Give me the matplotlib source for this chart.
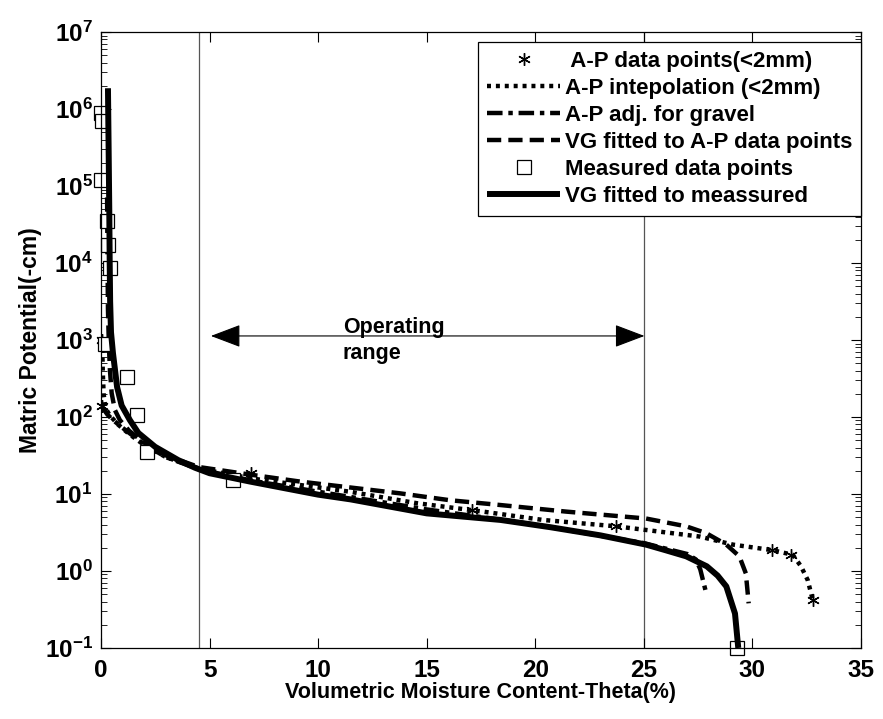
import matplotlib
matplotlib.use("Agg")
import matplotlib.pyplot as plt
from matplotlib.ticker import FixedLocator, LogLocator, MultipleLocator, NullFormatter

plt.rcParams.update(
    {
        "font.family": "Liberation Sans",
        "font.weight": "bold",
        "axes.labelweight": "bold",
        "mathtext.fontset": "custom",
        "mathtext.rm": "Liberation Sans:bold",
        "mathtext.bf": "Liberation Sans:bold",
        "mathtext.default": "bf",
    }
)

# VG fitted to measured (solid)
vg_meas_x = [0.32, 0.35, 0.38, 0.40, 0.42, 0.46, 0.55, 0.74, 0.95, 1.33, 1.72, 2.49, 3.56,
             4.33, 5.0, 6.86, 10.0, 11.5, 15.0, 18.4, 20.7, 23.0, 25.1, 26.0, 26.95, 27.9,
             28.4, 28.8, 29.2, 29.33, 29.35]
vg_meas_y = [1.86e6, 3.16e5, 5.0e4, 1.0e4, 3160, 1260, 676, 245, 141, 91, 62, 41, 27.5,
             21.9, 18.6, 14.5, 9.8, 8.5, 5.6, 4.6, 3.7, 2.9, 2.2, 1.86, 1.55, 1.15,
             0.87, 0.63, 0.28, 0.115, 0.1]

# VG fitted to A-P data points (dashed)
vg_ap_x = [0.28, 0.30, 0.32, 0.36, 0.41, 0.49, 0.64, 0.87, 1.3, 2.0, 3.0, 4.5, 6.9, 9.16,
           13.76, 16.06, 18.36, 21.43, 25.1, 26.95, 27.87, 28.8, 29.4, 29.7, 29.83]
vg_ap_y = [7.1e4, 1.0e4, 2500, 910, 410, 204, 123, 91, 66, 46, 31.6, 22.4, 17.8, 14.5,
           10.2, 8.3, 7.2, 5.9, 4.8, 3.8, 3.1, 2.2, 1.55, 0.93, 0.38]

# A-P interpolation (dotted)
ap_int_x = [0.05, 0.08, 0.12, 0.2, 0.4, 0.8, 1.3, 2.0, 3.0, 4.5, 7.0, 11.46, 14.53, 17.6,
            20.35, 23.73, 27.57, 29.1, 30.94, 31.86, 32.24, 32.55, 32.78]
ap_int_y = [1000, 400, 200, 132, 105, 79, 60, 43, 30, 21.4, 15.8, 10.7, 7.6, 5.9,
            4.6, 3.8, 2.8, 2.2, 1.86, 1.62, 1.15, 0.76, 0.42]

# A-P adjusted for gravel (dash-dot)
ap_grav_x = [0.0, 0.3, 0.6, 1.0, 1.3, 2.0, 3.0, 4.5, 7.0, 10.0, 15.0, 20.0, 25.0, 27.0,
             27.4, 27.6, 27.75, 27.87]
ap_grav_y = [141, 107, 89, 72, 62, 44, 30, 21, 14.8, 10.7, 6.3, 4.0, 2.3, 1.66,
             1.41, 1.05, 0.71, 0.52]

# A-P data points (<2mm)
ap_pts_x = [0.05, 0.05, 6.9, 17.1, 23.7, 30.9, 31.8, 32.8]
ap_pts_y = [1000, 140, 19, 6.2, 3.8, 1.85, 1.6, 0.42]

# measured data points
meas_x = [0.0, 0.05, 0.0, 0.26, 0.34, 0.41, 0.18, 1.18, 1.64, 2.1, 6.1, 29.3]
meas_y = [9e5, 7e5, 1.2e5, 3.5e4, 1.7e4, 8.5e3, 900, 330, 107, 35, 15, 0.1]

y_decades = [1e-1, 1e0, 1e1, 1e2, 1e3, 1e4, 1e5, 1e6, 1e7]
range_lo, range_hi = 4.5, 25.0

fig = plt.figure(figsize=(8.83, 7.19), dpi=100)
ax = fig.add_axes([0.1144, 0.0988, 0.8606, 0.8567])

ax.plot(ap_pts_x, ap_pts_y, ls="none", marker=(6, 2, 0), ms=9, mew=1.0, color="black",
        clip_on=False, label=" A-P data points(<2mm)")
ax.plot(ap_int_x, ap_int_y, color="black", lw=3.2, ls=(0, (0.9, 1.1)),
        label="A-P intepolation (<2mm)")
ax.plot(ap_grav_x, ap_grav_y, color="black", lw=3.2, ls=(0, (3.5, 1.3, 1.0, 1.3)),
        label="A-P adj. for gravel")
ax.plot(vg_ap_x, vg_ap_y, color="black", lw=3.2, ls=(0, (3.2, 1.6)),
        label="VG fitted to A-P data points")
ax.plot(meas_x, meas_y, ls="none", marker="s", ms=9.5, mfc="white", mec="black", mew=0.9,
        clip_on=False, label="Measured data points")
ax.plot(vg_meas_x, vg_meas_y, color="black", lw=4.3, solid_capstyle="butt",
        label="VG fitted to meassured")

# operating range
ax.axvline(range_lo, color="#555555", lw=0.9, zorder=0)
ax.axvline(range_hi, color="#555555", lw=0.9, zorder=0)
ax.annotate("", xy=(5.06, 1128), xytext=(25.03, 1128),
            arrowprops=dict(arrowstyle="<|-|>,head_length=0.95,head_width=0.36",
                            mutation_scale=20, color="black", lw=0.8, shrinkA=0, shrinkB=0))
ax.text(11.14, 1230, "Operating", fontsize=15.5, va="baseline")
ax.text(11.14, 566, "range", fontsize=15.5, va="baseline")

ax.set_yscale("log")
ax.set_xlim(0, 35)
ax.set_ylim(y_decades[0], y_decades[-1])
ax.xaxis.set_major_locator(MultipleLocator(5))
ax.yaxis.set_major_locator(FixedLocator(y_decades))
ax.yaxis.set_minor_locator(LogLocator(base=10, subs=range(2, 10), numticks=20))
ax.yaxis.set_minor_formatter(NullFormatter())
ax.tick_params(which="both", direction="in", top=True, right=True, labelsize=17.5)
ax.tick_params(which="major", length=7, width=0.8)
ax.tick_params(which="minor", length=4, width=0.6)
ax.tick_params(axis="x", pad=8)
ax.tick_params(axis="y", pad=6)
for s in ax.spines.values():
    s.set_linewidth(0.9)

ax.set_xlabel("Volumetric Moisture Content-Theta(%)", fontsize=15.5, labelpad=0)
ax.set_ylabel("Matric Potential(-cm)", fontsize=16.5, labelpad=2)

leg = ax.legend(loc="upper right", bbox_to_anchor=(1.0, 0.984), borderaxespad=0,
                fancybox=False, edgecolor="black", framealpha=1, fontsize=16,
                handlelength=3.3, handletextpad=0.2, labelspacing=0.27, numpoints=1,
                borderpad=0.4)
leg.get_frame().set_linewidth(0.9)

fig.savefig("out.png", dpi=100)
